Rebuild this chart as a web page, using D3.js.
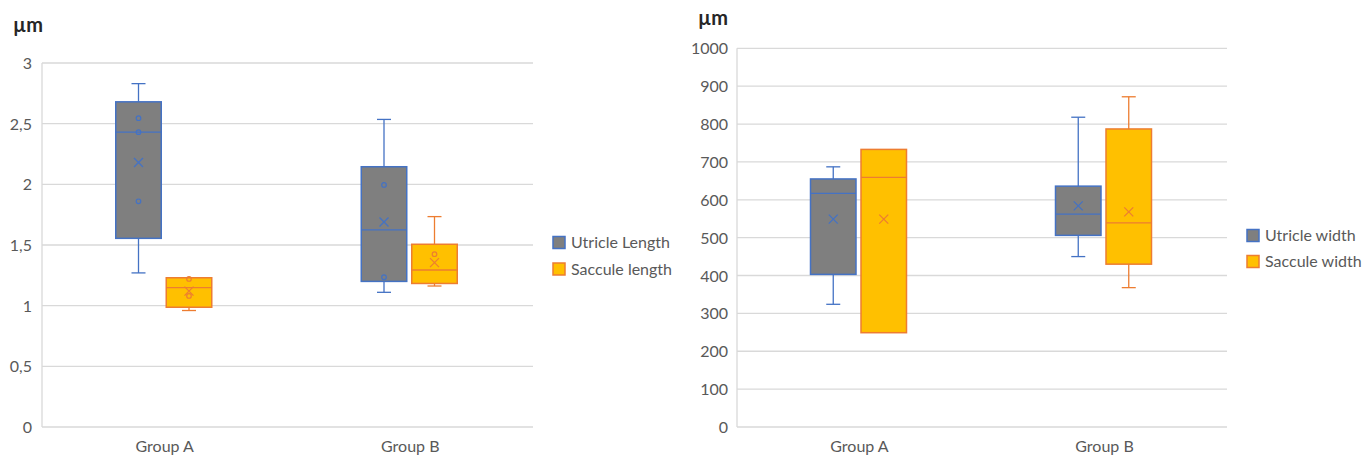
<!DOCTYPE html>
<html>
<head>
<meta charset="utf-8">
<script src="https://cdn.jsdelivr.net/npm/d3@7"></script>
<style>
  html, body { margin: 0; padding: 0; background: #fff; }
  svg text { font-family: Lato, "Open Sans", sans-serif; fill: #595959; }
</style>
</head>
<body>
<svg id="chart" width="1363" height="455"></svg>
<script>
// ---------- DATA ----------
const categories = ["Group A", "Group B"];

// Left panel: lengths
const lengthSeries = ["Utricle Length", "Saccule length"];
const lengthTicks = [0, 0.5, 1, 1.5, 2, 2.5, 3];
const utricleLengthMin    = [1.27, 1.11];
const utricleLengthQ1     = [1.555, 1.20];
const utricleLengthMedian = [2.43, 1.625];
const utricleLengthQ3     = [2.68, 2.145];
const utricleLengthMax    = [2.83, 2.535];
const utricleLengthMean   = [2.18, 1.69];
const utricleLengthPoints = [[2.545, 2.43, 1.86], [1.995, 1.234]];
const sacculeLengthMin    = [0.96, 1.162];
const sacculeLengthQ1     = [0.987, 1.183];
const sacculeLengthMedian = [1.148, 1.294];
const sacculeLengthQ3     = [1.23, 1.506];
const sacculeLengthMax    = [1.23, 1.734];
const sacculeLengthMean   = [1.12, 1.355];
const sacculeLengthPoints = [[1.22, 1.08], [1.424]];

// Right panel: widths
const widthSeries = ["Utricle width", "Saccule width"];
const widthTicks = [0, 100, 200, 300, 400, 500, 600, 700, 800, 900, 1000];
const utricleWidthMin    = [324, 450];
const utricleWidthQ1     = [403, 506];
const utricleWidthMedian = [617, 562];
const utricleWidthQ3     = [655, 636];
const utricleWidthMax    = [687, 818];
const utricleWidthMean   = [549, 584];
const utricleWidthPoints = [[], []];
const sacculeWidthMin    = [249, 368];
const sacculeWidthQ1     = [249, 430];
const sacculeWidthMedian = [659, 539];
const sacculeWidthQ3     = [733, 787];
const sacculeWidthMax    = [733, 872];
const sacculeWidthMean   = [549, 568];
const sacculeWidthPoints = [[], []];

// ---------- STYLE ----------
const fills   = ["#7f7f7f", "#ffc000"];
const strokes = ["#4472c4", "#ed7d31"];
const gridColor = "#d9d9d9";

const svg = d3.select("#chart");
const commaLocale = d3.formatLocale({decimal: ",", thousands: ".", grouping: [3], currency: ["", ""]});

function buildStats(min, q1, med, q3, max, mean, pts) {
  return categories.map((c, i) => ({
    cat: c, min: min[i], q1: q1[i], median: med[i], q3: q3[i], max: max[i], mean: mean[i], points: pts[i]
  }));
}

function drawPanel(opts) {
  const g = svg.append("g");
  const y = d3.scaleLinear().domain(opts.domain).range([427, opts.top]);
  const x = d3.scaleBand().domain(categories).range([opts.left, opts.right]).padding(0);
  const inner = d3.scaleBand().domain(opts.series).range([-49, 47]).paddingInner(5 / 50.5).paddingOuter(0);

  // gridlines
  g.append("g").selectAll("line").data(opts.ticks).join("line")
    .attr("x1", opts.left).attr("x2", opts.right)
    .attr("y1", d => y(d)).attr("y2", d => y(d))
    .attr("stroke", gridColor).attr("stroke-width", 1.3);
  // vertical axis line
  g.append("line").attr("x1", opts.left).attr("x2", opts.left)
    .attr("y1", y(opts.domain[0])).attr("y2", y(opts.domain[1]))
    .attr("stroke", gridColor).attr("stroke-width", 1.3);

  // y axis labels
  const yAxis = d3.axisLeft(y).tickValues(opts.ticks).tickSize(0).tickPadding(0).tickFormat(opts.fmt);
  const ya = g.append("g").attr("transform", `translate(${opts.labelRight},0)`).call(yAxis);
  ya.select(".domain").remove();
  ya.selectAll("text").style("font-size", "16px").attr("dy", "0.35em").attr("fill", "#595959");

  // x axis labels
  const xAxis = d3.axisBottom(x).tickSize(0).tickPadding(0);
  const xa = g.append("g").attr("transform", `translate(0,452)`).call(xAxis);
  xa.select(".domain").remove();
  xa.selectAll("text").style("font-size", "16px").attr("y", 0).attr("dy", "0").attr("fill", "#595959");

  // unit title
  g.append("text").attr("x", opts.unitX).attr("y", opts.unitY)
    .style("font-size", "20px").style("font-weight", "bold").style("fill", "#262626")
    .text("µm");

  // boxes
  opts.stats.forEach((stats, si) => {
    const sg = g.append("g");
    const bw = inner.bandwidth();
    stats.forEach(d => {
      const x0 = x(d.cat) + x.bandwidth() / 2 + inner(opts.series[si]);
      const cx = x0 + bw / 2;
      const cap = 7;
      // whiskers
      if (d.max > d.q3) {
        sg.append("line").attr("x1", cx).attr("x2", cx).attr("y1", y(d.q3)).attr("y2", y(d.max))
          .attr("stroke", strokes[si]).attr("stroke-width", 1.3);
        sg.append("line").attr("x1", cx - cap).attr("x2", cx + cap).attr("y1", y(d.max)).attr("y2", y(d.max))
          .attr("stroke", strokes[si]).attr("stroke-width", 1.3);
      }
      if (d.min < d.q1) {
        sg.append("line").attr("x1", cx).attr("x2", cx).attr("y1", y(d.q1)).attr("y2", y(d.min))
          .attr("stroke", strokes[si]).attr("stroke-width", 1.3);
        sg.append("line").attr("x1", cx - cap).attr("x2", cx + cap).attr("y1", y(d.min)).attr("y2", y(d.min))
          .attr("stroke", strokes[si]).attr("stroke-width", 1.3);
      }
      // box
      sg.append("rect").attr("x", x0).attr("width", bw)
        .attr("y", y(d.q3)).attr("height", y(d.q1) - y(d.q3))
        .attr("fill", fills[si]).attr("stroke", strokes[si]).attr("stroke-width", 1.5);
      // median
      sg.append("line").attr("x1", x0).attr("x2", x0 + bw).attr("y1", y(d.median)).attr("y2", y(d.median))
        .attr("stroke", strokes[si]).attr("stroke-width", 1.3);
      // inner points
      sg.selectAll(null).data(d.points).join("circle")
        .attr("cx", cx).attr("cy", p => y(p)).attr("r", 2.3)
        .attr("fill", "none").attr("stroke", strokes[si]).attr("stroke-width", 1.2);
      // mean marker
      const my = y(d.mean), s = 4.5;
      sg.append("path").attr("d", `M${cx - s},${my - s}L${cx + s},${my + s}M${cx - s},${my + s}L${cx + s},${my - s}`)
        .attr("stroke", strokes[si]).attr("stroke-width", 1.3).attr("fill", "none");
    });
  });

  // legend
  const lg = g.append("g");
  opts.series.forEach((name, si) => {
    const ly = opts.legendY[si];
    lg.append("rect").attr("x", opts.legendX).attr("y", ly - 6).attr("width", 12).attr("height", 12)
      .attr("fill", fills[si]).attr("stroke", strokes[si]).attr("stroke-width", 1.5);
    lg.append("text").attr("x", opts.legendX + 18).attr("y", ly).attr("dy", "0.35em")
      .style("font-size", "16px").text(name);
  });
}

drawPanel({
  domain: [0, 3], top: 63, left: 42, right: 533, labelRight: 32,
  ticks: lengthTicks, fmt: commaLocale.format("~g"),
  series: lengthSeries,
  stats: [
    buildStats(utricleLengthMin, utricleLengthQ1, utricleLengthMedian, utricleLengthQ3, utricleLengthMax, utricleLengthMean, utricleLengthPoints),
    buildStats(sacculeLengthMin, sacculeLengthQ1, sacculeLengthMedian, sacculeLengthQ3, sacculeLengthMax, sacculeLengthMean, sacculeLengthPoints)
  ],
  legendX: 553, legendY: [242.5, 269],
  unitX: 13, unitY: 32
});

drawPanel({
  domain: [0, 1000], top: 48.3, left: 737, right: 1227, labelRight: 728,
  ticks: widthTicks, fmt: d3.format("d"),
  series: widthSeries,
  stats: [
    buildStats(utricleWidthMin, utricleWidthQ1, utricleWidthMedian, utricleWidthQ3, utricleWidthMax, utricleWidthMean, utricleWidthPoints),
    buildStats(sacculeWidthMin, sacculeWidthQ1, sacculeWidthMedian, sacculeWidthQ3, sacculeWidthMax, sacculeWidthMean, sacculeWidthPoints)
  ],
  legendX: 1247, legendY: [235.5, 261.5],
  unitX: 698, unitY: 25
});
</script>
</body>
</html>
